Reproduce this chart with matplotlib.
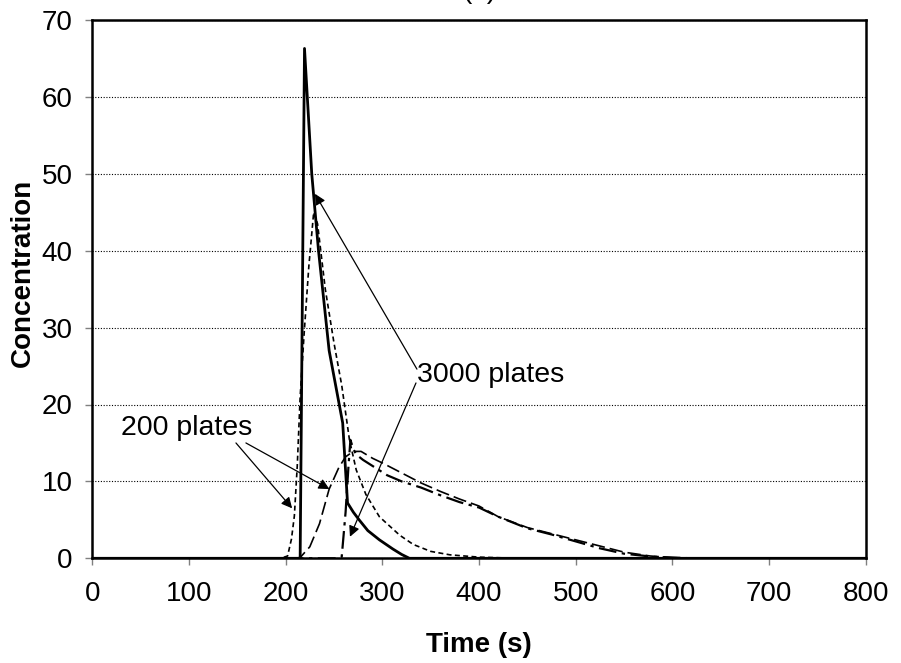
import matplotlib
matplotlib.use("Agg")
import matplotlib.pyplot as plt

plt.rcParams['font.family'] = ['Liberation Sans', 'DejaVu Sans']

# solid: 3000 plates, sharp peak
t_solid = [0, 214, 215, 219.5, 227, 234, 245, 259, 264, 270, 276, 285, 297, 311, 320, 328, 800]
c_solid = [0, 0, 0, 66.3, 50, 40, 27, 17.6, 7.2, 6.0, 5.0, 3.6, 2.4, 1.2, 0.5, 0, 0]

# short dash: 200 plates, sharp peak
t_sdash = [0, 195, 202, 206, 209, 212, 215, 219, 224, 229, 233, 241, 250, 258, 266, 273, 283,
           297, 318, 332, 350, 370, 400, 440, 800]
c_sdash = [0, 0, 0.3, 2.5, 5.5, 12, 21, 29, 38, 45, 43.5, 35, 28, 22.5, 15.4, 11.5, 8.3,
           5.4, 3.0, 1.8, 0.9, 0.45, 0.15, 0, 0]

# long dash: 200 plates, broad peak
t_ldash = [0, 210, 215, 225, 235, 245, 255, 262, 270, 278, 290, 300, 320, 340, 360, 380, 400,
           420, 450, 475, 500, 525, 550, 577, 600, 630, 800]
c_ldash = [0, 0, 0.1, 1.5, 4.5, 9, 11.8, 13.2, 13.9, 13.9, 13.0, 12.4, 11.1, 9.8, 8.7, 7.7, 6.8,
           5.4, 4.0, 3.2, 2.4, 1.6, 0.8, 0.3, 0.08, 0, 0]

# dash-dot: 3000 plates, broad peak
t_ddot = [0, 254, 258, 262, 265, 267, 270, 273, 280, 290, 305, 320, 340, 360, 380, 400,
          420, 450, 475, 500, 525, 550, 580, 620, 800]
c_ddot = [0, 0, 0.2, 6, 12, 15.4, 14.2, 13.5, 12.8, 12.0, 10.8, 10.0, 9.2, 8.2, 7.3, 6.6,
          5.4, 3.9, 3.1, 2.2, 1.3, 0.6, 0.2, 0, 0]

fig = plt.figure(figsize=(9.01, 6.63), dpi=100)
ax = fig.add_axes([92.3 / 901, 1 - 558.3 / 663, (865.7 - 92.3) / 901, (558.3 - 20) / 663])

ax.plot(t_sdash, c_sdash, color='black', lw=1.2, dashes=(3, 2))
ax.plot(t_ldash, c_ldash, color='black', lw=1.2, dashes=(8, 3))
ax.plot(t_ddot, c_ddot, color='black', lw=1.6, dashes=(8, 2.5, 1.5, 2.5))
ax.plot(t_solid, c_solid, color='black', lw=2.0)

ax.set_xlim(0, 800)
ax.set_ylim(0, 70)
ax.set_xticks(range(0, 801, 100))
ax.set_yticks(range(0, 71, 10))
ax.yaxis.grid(True, color='black', linestyle=(0, (1, 1.5)), lw=0.8)
ax.set_axisbelow(True)
for s in ax.spines.values():
    s.set_linewidth(1.8)
ax.tick_params(direction='out', length=5, width=1, color='gray', labelsize=20)
ax.tick_params(axis='x', pad=11)
ax.tick_params(axis='y', pad=9)

ax.set_xlabel('Time (s)', fontsize=20, fontweight='bold', labelpad=18)
ax.set_ylabel('Concentration', fontsize=20, fontweight='bold', va='center')
ax.yaxis.set_label_coords(-0.0896, 0.53)

aprops = dict(arrowstyle='-|>', color='black', lw=0.9, mutation_scale=16, shrinkA=0, shrinkB=0)
ax.text(98, 17, '200 plates', fontsize=20.5, ha='center', va='center')
ax.annotate('', xy=(206.7, 6.5), xytext=(148.6, 15.0), arrowprops=aprops)
ax.annotate('', xy=(245.3, 9.0), xytext=(158.9, 15.0), arrowprops=aprops)

ax.text(336, 23.8, '3000 plates', fontsize=20.5, ha='left', va='center')
ax.annotate('', xy=(230.3, 47.4), xytext=(335.8, 24.6), arrowprops=aprops)
ax.annotate('', xy=(266.5, 2.8), xytext=(334.8, 22.8), arrowprops=aprops)

fig.text(479.5 / 901, 1 + 2 / 663, '(a)', fontsize=20, ha='center', va='baseline')

fig.savefig('out.png', dpi=100)
